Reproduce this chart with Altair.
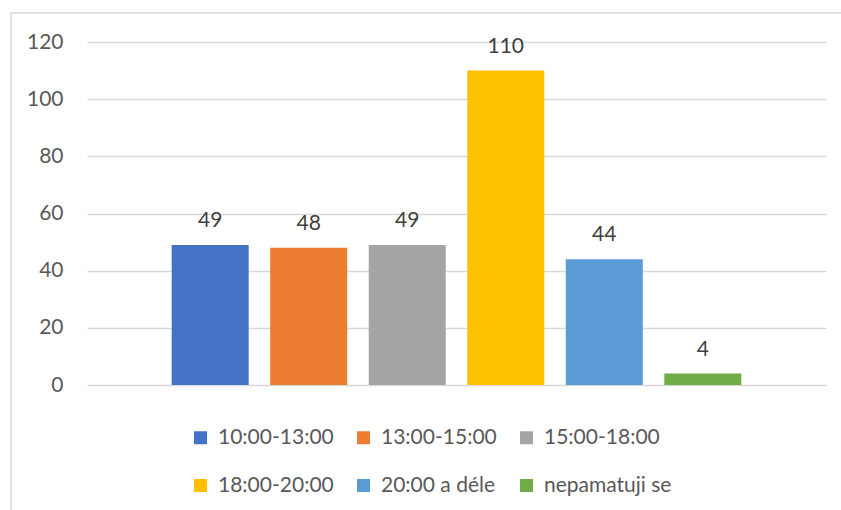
import altair as alt
import pandas as pd

# Time slots and number of answers
slots = ["10:00-13:00", "13:00-15:00", "15:00-18:00", "18:00-20:00", "20:00 a déle", "nepamatuji se"]
counts = [49, 48, 49, 110, 44, 4]
colors = ["#4472C4", "#ED7D31", "#A5A5A5", "#FFC000", "#5B9BD5", "#70AD47"]
y_ticks = [0, 20, 40, 60, 80, 100, 120]

df = pd.DataFrame({"slot": slots, "count": counts})

FONT = "Lato"

x_enc = alt.X(
    "slot:N",
    sort=None,
    axis=None,
    scale=alt.Scale(paddingInner=0.2175, paddingOuter=0.859),
)
y_enc = alt.Y(
    "count:Q",
    scale=alt.Scale(domain=[0, 120], nice=False),
    axis=alt.Axis(
        values=y_ticks,
        title=None,
        domain=False,
        ticks=False,
        labelPadding=24,
        labelFontSize=21,
        labelColor="#595959",
        labelFont=FONT,
        gridColor="#D9D9D9",
        gridWidth=1.5,
    ),
)

bars = alt.Chart(df).mark_bar(size=77).encode(
    x=x_enc,
    y=y_enc,
    color=alt.Color(
        "slot:N",
        sort=None,
        scale=alt.Scale(domain=slots, range=colors),
        legend=alt.Legend(
            title=None,
            orient="none",
            legendX=103,
            legendY=385,
            columns=3,
            direction="horizontal",
            symbolType="square",
            symbolSize=169,
            symbolStrokeWidth=0,
            symbolOpacity=1,
            labelFontSize=21,
            labelFont=FONT,
            labelColor="#595959",
            labelOffset=7,
            columnPadding=19,
            rowPadding=26,
            padding=0,
            labelLimit=300,
        ),
    ),
)

labels = alt.Chart(df).mark_text(
    dy=-18, baseline="alphabetic", fontSize=21, font=FONT, color="#404040"
).encode(
    x=x_enc,
    y=alt.Y("count:Q"),
    text=alt.Text("count:Q"),
)

# light outer frame of the chart area
frame_df = pd.DataFrame({"k": [0]})
frame_top = alt.Chart(frame_df).mark_rule(color="#D9D9D9", strokeWidth=1.5).encode(
    x=alt.value(-76), x2=alt.value(800), y=alt.value(-29)
)
frame_left = alt.Chart(frame_df).mark_rule(color="#D9D9D9", strokeWidth=1.5).encode(
    x=alt.value(-76), y=alt.value(-29), y2=alt.value(500)
)

chart = (
    alt.layer(frame_top, frame_left, bars, labels)
    .properties(
        width=739,
        height=343,
        autosize=alt.AutoSizeParams(type="none"),
        padding={"left": 87, "top": 42, "right": 15, "bottom": 125},
        background="white",
    )
    .configure_view(stroke=None)
)

chart.save("out.html", embed_options={"renderer": "svg", "actions": False})
